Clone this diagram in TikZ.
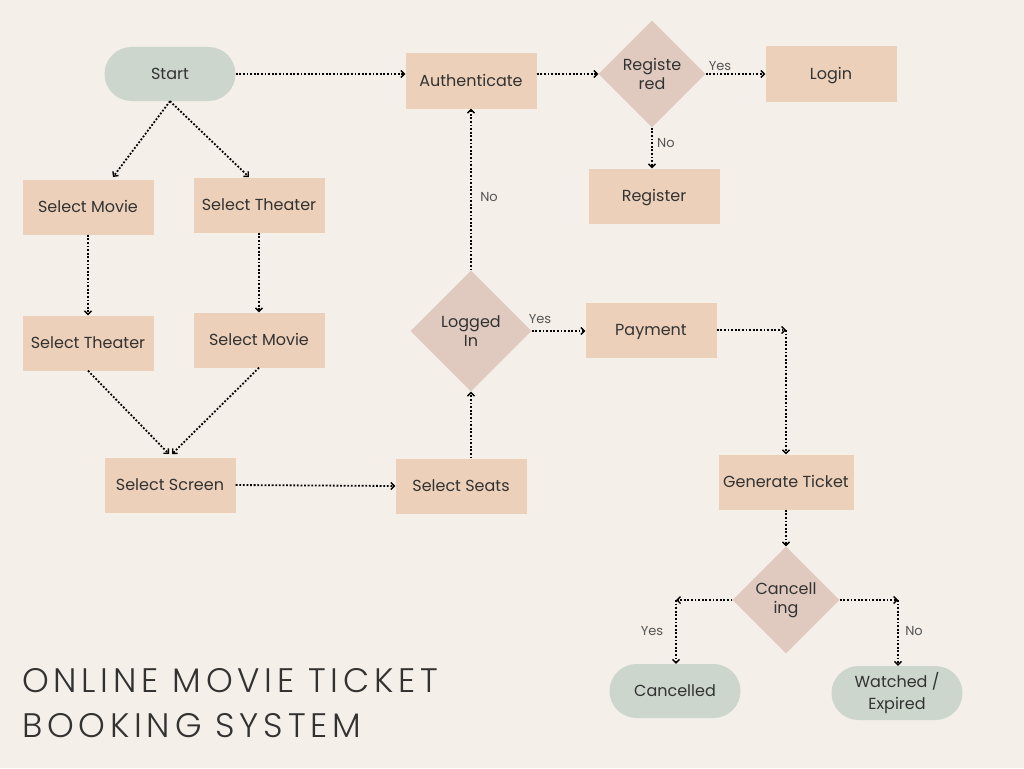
\documentclass[tikz,border=0pt]{standalone}
\usepackage{fontspec}
\setmainfont{Poppins}
\newfontfamily\titlefont[LetterSpace=14]{Poppins Light}
\usetikzlibrary{arrows.meta,shapes.geometric}
\definecolor{bg}{RGB}{244,239,233}
\definecolor{boxc}{RGB}{237,208,185}
\definecolor{diac}{RGB}{224,202,192}
\definecolor{endc}{RGB}{204,214,205}
\definecolor{txt}{RGB}{50,50,50}
\definecolor{lbl}{RGB}{85,85,85}
\tikzset{
  procbox/.style={rectangle, fill=boxc, minimum width=131pt, minimum height=55pt, inner sep=0pt, text=txt, font=\fontsize{16}{19}\selectfont, align=center, text height=14pt, text depth=3pt},
  decision/.style={diamond, fill=diac, minimum width=107pt, minimum height=107pt, inner sep=0pt, text=txt, font=\fontsize{16}{19}\selectfont, align=center},
  terminal/.style={rectangle, rounded corners=27pt, fill=endc, minimum width=131pt, minimum height=54pt, inner sep=0pt, text=txt, font=\fontsize{16}{22}\selectfont, align=center},
  flow/.style={line width=1.8pt, dash pattern=on 1.8pt off 1.8pt, -{Straight Barb[length=3.5pt,width=7pt,line width=1.4pt]}},
  elabel/.style={text=lbl, font=\fontsize{13}{15}\selectfont, inner sep=0pt}
}
\begin{document}
\begin{tikzpicture}[x=1pt,y=-1pt]
\useasboundingbox (0,0) rectangle (1024,768);
\fill[bg] (0,0) rectangle (1024,768);

\node[terminal] (start) at (170,74) {Start};
\node[procbox] (auth) at (471,81) {Authenticate};
\node[decision] (reg) at (652,74) {Registe\\red};
\node[procbox] (login) at (831,74) {Login};
\node[procbox] (register) at (654,196) {Register};
\node[procbox] (sm1) at (88,207) {Select Movie};
\node[procbox] (st1) at (259,205) {Select Theater};
\node[procbox] (st2) at (88,343) {Select Theater};
\node[procbox] (sm2) at (259,340) {Select Movie};
\node[procbox] (screen) at (170,485) {Select Screen};
\node[procbox] (seats) at (461,486) {Select Seats};
\node[decision, minimum width=121pt, minimum height=121pt] (logged) at (471,331) {Logged\\In};
\node[procbox] (pay) at (651,330) {Payment};
\node[procbox, minimum width=135pt] (gen) at (786,482) {Generate Ticket};
\node[decision] (cancel) at (786,600) {Cancell\\ing};
\node[terminal] (cancelled) at (675,691) {Cancelled};
\node[terminal] (watched) at (897,693) {Watched /\\Expired};

\coordinate (payc) at (786,330);
\coordinate (cyc) at (676,600);
\coordinate (cnc) at (898,600);
\coordinate (stl) at (113,177);
\coordinate (str) at (249,177);
\coordinate (scl) at (169,454);
\coordinate (scr) at (172,454);

\draw[flow] (start.east) -- (start.east -| auth.west);
\draw[flow] (reg.west -| auth.east) -- (reg.west);
\draw[flow] (reg.east) -- (login.west |- reg.east);
\node[elabel] at (720,66) {Yes};
\draw[flow] (reg.south) -- (register.north -| reg.south);
\node[elabel, anchor=west] at (657,143) {No};

\draw[flow] (start.south) -- (stl);
\draw[flow] (start.south) -- (str);
\draw[flow] (sm1.south) -- (st2.north);
\draw[flow] (st1.south) -- (sm2.north);
\draw[flow] (st2.south) -- (scl);
\draw[flow] (sm2.south) -- (scr);
\draw[flow] (screen.east) -- (seats.west);

\draw[flow] (seats.north -| logged.south) -- (logged.south);
\draw[flow] (logged.north) -- (auth.south -| logged.north);
\node[elabel] at (489,197) {No};
\draw[flow] (logged.east) -- (pay.west |- logged.east);
\node[elabel] at (540,319) {Yes};

\draw[flow] (pay.east) -- (payc);
\draw[flow] (payc) -- (gen.north);
\draw[flow] (gen.south) -- (cancel.north);
\draw[flow] (cancel.west) -- (cyc);
\draw[flow] (cyc) -- (cyc |- cancelled.north);
\node[elabel] at (652,631) {Yes};
\draw[flow] (cancel.east) -- (cnc);
\draw[flow] (cnc) -- (cnc |- watched.north);
\node[elabel] at (914,631) {No};

\node[anchor=base west, inner sep=0pt, text=txt, font=\titlefont\fontsize{34}{45}\selectfont] (t1) at (22,692) {ONLINE MOVIE TICKET};
\node[anchor=base west, inner sep=0pt, text=txt, font=\titlefont\fontsize{34}{45}\selectfont] (t2) at (22,737) {BOOKING SYSTEM};
\end{tikzpicture}
\end{document}
